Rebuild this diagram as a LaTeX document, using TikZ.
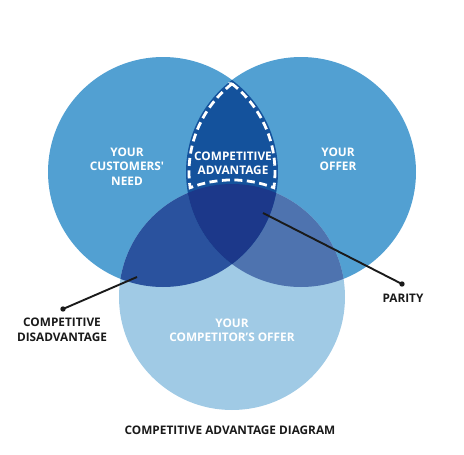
\documentclass[tikz,border=0pt]{standalone}
\usepackage{fontspec}
\setmainfont{Open Sans}
\definecolor{topblue}{HTML}{52A0D2}
\definecolor{lightblue}{HTML}{A0CAE5}
\definecolor{leftbot}{HTML}{2A529E}
\definecolor{rightbot}{HTML}{4E73AF}
\definecolor{lens}{HTML}{14529C}
\definecolor{triple}{HTML}{1C388A}
\definecolor{ink}{HTML}{1A1A1A}
\tikzset{
  lbl/.style={align=center, font=\bfseries\fontsize{11.8}{14.5}\selectfont, inner sep=0pt},
  wlbl/.style={lbl, text=white},
  klbl/.style={lbl, text=ink},
  leader/.style={draw=ink, line width=1.9pt},
  dot/.style={fill=ink},
  lensline/.style={draw=white, line width=2.8pt, dash pattern=on 8pt off 4.5pt}
}
\begin{document}
\begin{tikzpicture}[x=1pt,y=-1pt]
\useasboundingbox (0,0) rectangle (464,455);
\def\LC{(163,172) circle[radius=115]}
\def\RC{(301,172) circle[radius=115]}
\def\BC{(232,297) circle[radius=113]}
% base circles
\fill[topblue] \LC;
\fill[topblue] \RC;
\fill[lightblue] \BC;
% left & bottom
\begin{scope}
  \clip \LC;
  \fill[leftbot] \BC;
\end{scope}
% right & bottom
\begin{scope}
  \clip \RC;
  \fill[rightbot] \BC;
\end{scope}
% left & right
\begin{scope}
  \clip \LC;
  \clip \RC;
  \fill[lens] (0,0) rectangle (464,455);
  \clip \BC;
  \fill[triple] (0,0) rectangle (464,455);
\end{scope}
% dashed lens outline
\coordinate (lenstop) at (232,83.8);
\draw[lensline] (lenstop)
  arc[start angle=231.96, end angle=171.94, radius=112]
  arc[start angle=249.03, end angle=290.97, radius=117]
  arc[start angle=8.06, end angle=-51.96, radius=112] -- cycle;
% labels
\node[wlbl] (need) at (127,166.5) {YOUR\\CUSTOMERS\textquotesingle\\NEED};
\node[wlbl] (offer) at (338,159.5) {YOUR\\OFFER};
\node[wlbl] (adv) at (233,163.5) {COMPETITIVE\\ADVANTAGE};
\node[wlbl] (comp) at (232,330.5) {YOUR\\COMPETITOR’S OFFER};
\node[klbl] (disadv) at (62,330) {COMPETITIVE\\DISADVANTAGE};
\node[klbl] (parity) at (403,298) {PARITY};
\node[klbl] (title) at (230,430) {COMPETITIVE ADVANTAGE DIAGRAM};
% leaders
\coordinate (disdot) at (63,309);
\coordinate (disend) at (137,277);
\coordinate (pardot) at (402,284);
\coordinate (parend) at (263,213);
\draw[leader] (disdot) -- (disend);
\draw[leader] (parend) -- (pardot);
\fill[dot] (disdot) circle[radius=2.7];
\fill[dot] (pardot) circle[radius=2.7];
\end{tikzpicture}
\end{document}
